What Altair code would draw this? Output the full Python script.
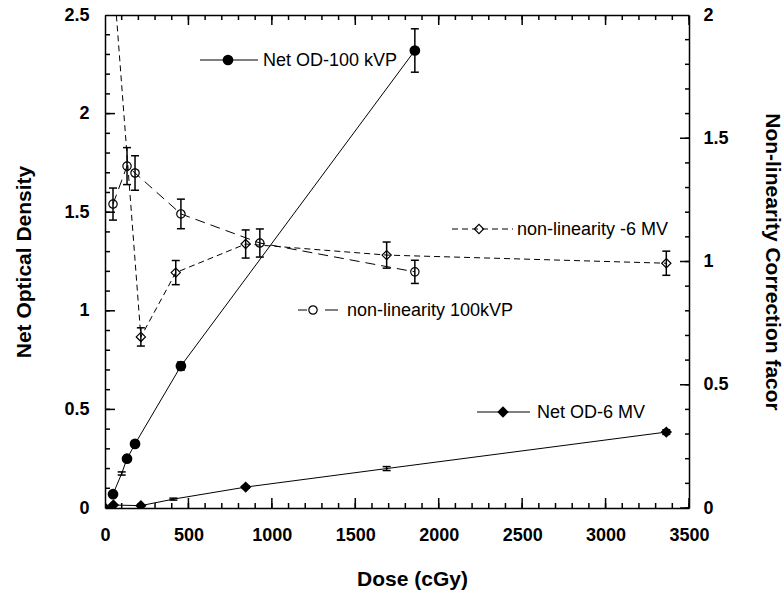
import altair as alt
import pandas as pd

FONT = "Liberation Sans"
W, H = 584, 493

# Net optical density, 100 kVp beam (left axis)
od100_dose = [48, 100, 132, 180, 455, 1857]
od100_value = [0.07, 0.175, 0.25, 0.325, 0.72, 2.32]
od100_err = [0.01, 0.008, 0.01, 0.012, 0.02, 0.11]
od100_no_marker = [100]

# Net optical density, 6 MV beam (left axis)
od6_dose = [0, 50, 215, 410, 843, 1688, 3364]
od6_value = [0.0, 0.015, 0.012, 0.045, 0.106, 0.2, 0.385]
od6_err = [0.0, 0.0, 0.0, 0.005, 0.006, 0.01, 0.012]
od6_no_marker = [410, 1688]

# Non-linearity correction factor, 100 kVp beam (right axis)
nl100_dose = [48, 132, 180, 455, 928, 1857]
nl100_value = [1.233, 1.387, 1.359, 1.193, 1.075, 0.958]
nl100_err = [0.065, 0.075, 0.07, 0.06, 0.057, 0.047]

# Non-linearity correction factor, 6 MV beam (right axis)
nl6_dose = [50, 215, 424, 843, 1688, 3364]
nl6_value = [2.16, 0.694, 0.955, 1.071, 1.026, 0.993]
nl6_err = [0.0, 0.037, 0.049, 0.057, 0.053, 0.049]

# Axis ranges and tick positions
X_DOMAIN = [0, 3500]
YL_DOMAIN = [0, 2.5]
YR_DOMAIN = [0, 2]
x_major = list(range(0, 3501, 500))
x_minor = list(range(0, 3501, 100))
yl_major = [0, 0.5, 1, 1.5, 2, 2.5]
yl_minor = [round(i * 0.1, 1) for i in range(26)]
yr_major = [0, 0.5, 1, 1.5, 2]
yr_minor = [round(i * 0.1, 1) for i in range(21)]


def frame(dose, value, err):
    df = pd.DataFrame({"dose": dose, "value": value, "err": err})
    df["lo"] = df["value"] - df["err"]
    df["hi"] = df["value"] + df["err"]
    return df


def xenc(axis=None, field="dose"):
    return alt.X(f"{field}:Q", scale=alt.Scale(domain=X_DOMAIN, nice=False, zero=False), axis=axis)


def yenc(field, domain, axis=None):
    return alt.Y(f"{field}:Q", scale=alt.Scale(domain=domain, nice=False, zero=False), axis=axis)


def series(df, domain, shape, filled, size, dash=None, no_marker=()):
    line_kw = dict(color="black", strokeWidth=1, clip=True)
    if dash:
        line_kw["strokeDash"] = dash
    line = alt.Chart(df).mark_line(**line_kw).encode(x=xenc(), y=yenc("value", domain))
    eb = df[df["err"] > 0]
    bars = alt.Chart(eb).mark_rule(color="black", strokeWidth=1.5, clip=True).encode(
        x=xenc(), y=yenc("lo", domain), y2="hi:Q")
    cap_lo = alt.Chart(eb).mark_tick(orient="horizontal", size=8, thickness=1.5,
                                     color="black", opacity=1, clip=True).encode(
        x=xenc(), y=yenc("lo", domain))
    cap_hi = alt.Chart(eb).mark_tick(orient="horizontal", size=8, thickness=1.5,
                                     color="black", opacity=1, clip=True).encode(
        x=xenc(), y=yenc("hi", domain))
    pts_df = df[~df["dose"].isin(list(no_marker))]
    pts = alt.Chart(pts_df).mark_point(shape=shape, filled=filled, size=size, color="black",
                                       strokeWidth=1.2, opacity=1, clip=True).encode(
        x=xenc(), y=yenc("value", domain))
    return [line, bars, cap_lo, cap_hi, pts]


anchor = pd.DataFrame({"dose": [0], "value": [0]})

common = dict(grid=False, domainColor="black", labelColor="black",
              titleColor="black", domainWidth=1.5)

label_style = dict(labelFont=FONT, labelFontSize=18, labelFontWeight="bold",
                   labelOverlap=False, labelFlush=False, titleFont=FONT,
                   titleFontSize=21, titleFontWeight="bold")


def axis_layer(ydom, x_axis=None, y_axis=None):
    return alt.Chart(anchor).mark_point(opacity=0).encode(
        x=xenc(x_axis), y=yenc("value", ydom, y_axis))


def frame_axis(orient):
    return alt.Axis(orient=orient, values=[0], labels=False, ticks=False, domain=True,
                    title=None, **common)


axes = [
    axis_layer(YL_DOMAIN, x_axis=alt.Axis(orient="bottom", values=x_major, ticks=False, domain=True,
                                         format="d", labelPadding=18, title="Dose (cGy)",
                                         titlePadding=24, titleX=307, **label_style, **common)),
    axis_layer(YL_DOMAIN, x_axis=frame_axis("top")),
    axis_layer(YL_DOMAIN, y_axis=alt.Axis(orient="left", values=yl_major, ticks=False, domain=True,
                                         format="~g", labelPadding=16, title="Net Optical Density",
                                         titlePadding=29, **label_style, **common)),
    axis_layer(YR_DOMAIN, y_axis=alt.Axis(orient="right", values=yr_major, ticks=False, domain=True,
                                         format="~g", labelPadding=14,
                                         title="Non-linearity Correction facor",
                                         titlePadding=33, **label_style, **common)),
]


# Tick marks straddle the frame edge; clipping keeps the inner half only
def x_ticks(values, px):
    half = px / H * (YL_DOMAIN[1] - YL_DOMAIN[0])
    out = []
    for edge in YL_DOMAIN:
        df = frame(values, [edge] * len(values), [half] * len(values))
        out.append(alt.Chart(df).mark_rule(color="black", strokeWidth=1.5, clip=True).encode(
            x=xenc(), y=yenc("lo", YL_DOMAIN), y2="hi:Q"))
    return out


def y_ticks(values, domain, edge, px):
    half = px / W * (X_DOMAIN[1] - X_DOMAIN[0])
    df = pd.DataFrame({"value": values})
    df["lo"] = edge - half
    df["hi"] = edge + half
    return [alt.Chart(df).mark_rule(color="black", strokeWidth=1.5, clip=True).encode(
        y=yenc("value", domain), x=xenc(field="lo"), x2="hi:Q")]


ticks = (
    x_ticks(x_major, 10) + x_ticks(x_minor, 5)
    + y_ticks(yl_major, YL_DOMAIN, X_DOMAIN[0], 10) + y_ticks(yl_minor, YL_DOMAIN, X_DOMAIN[0], 5)
    + y_ticks(yr_major, YR_DOMAIN, X_DOMAIN[1], 9) + y_ticks(yr_minor, YR_DOMAIN, X_DOMAIN[1], 4)
)

data_layers = (
    series(frame(od100_dose, od100_value, od100_err), YL_DOMAIN, "circle", True, 115,
           no_marker=od100_no_marker)
    + series(frame(od6_dose, od6_value, od6_err), YL_DOMAIN, "diamond", True, 130,
             no_marker=od6_no_marker)
    + series(frame(nl100_dose, nl100_value, nl100_err), YR_DOMAIN, "circle", False, 70,
             dash=[10, 6])
    + series(frame(nl6_dose, nl6_value, nl6_err), YR_DOMAIN, "diamond", False, 85,
             dash=[6, 4])
)


# In-plot key entries: sample line, marker and text
def key_rule(x1, x2, y, dash=None):
    kw = dict(color="black", strokeWidth=1)
    if dash:
        kw["strokeDash"] = dash
    return alt.Chart(anchor).mark_rule(**kw).encode(x=alt.value(x1), x2=alt.value(x2), y=alt.value(y))


def key_marker(x, y, shape, filled, size):
    return alt.Chart(anchor).mark_point(shape=shape, filled=filled, size=size, color="black",
                                        strokeWidth=1.2, opacity=1).encode(x=alt.value(x), y=alt.value(y))


def key_text(x, y, text):
    return alt.Chart(anchor).mark_text(text=text, align="left", baseline="middle", font=FONT,
                                       fontSize=18, color="black").encode(x=alt.value(x), y=alt.value(y))


keys = [
    key_rule(95, 153, 45), key_marker(123, 45, "circle", True, 115),
    key_text(158, 46, "Net OD-100 kVP"),
    key_rule(347, 408, 214, dash=[6, 4]), key_marker(374, 214, "diamond", False, 85),
    key_text(412, 215, "non-linearity -6 MV"),
    key_rule(193, 202, 295), key_rule(220, 233, 295), key_marker(208, 295, "circle", False, 70),
    key_text(242, 296, "non-linearity 100kVP"),
    key_rule(372, 425, 397), key_marker(398, 397, "diamond", True, 130),
    key_text(432, 398, "Net OD-6 MV"),
]

chart = (
    alt.layer(*data_layers, *keys, *ticks, *axes)
    .resolve_scale(x="independent", y="independent")
    .properties(width=W, height=H,
                padding={"left": 105, "top": 15, "right": 95, "bottom": 85},
                autosize=alt.AutoSizeParams(type="none"))
    .configure_view(stroke=None)
)

chart.save("out.html", embed_options={"renderer": "svg", "actions": False})
